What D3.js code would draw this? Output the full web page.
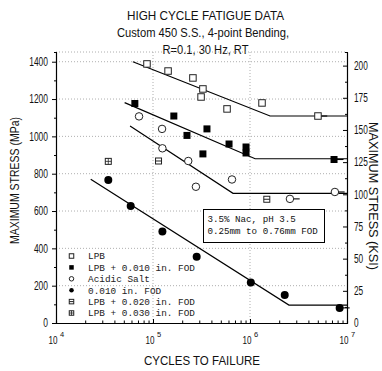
<!DOCTYPE html>
<html><head><meta charset="utf-8">
<script src="https://cdn.jsdelivr.net/npm/d3@7"></script>
<style>body{margin:0;background:#fff}svg{display:block}</style>
</head><body><svg id="c" width="382" height="371"></svg>
<script>
// ---- data ----
const titleLines = ["HIGH CYCLE FATIGUE DATA", "Custom 450 S.S., 4-point Bending,", "R=0.1, 30 Hz, RT"];
const xLabel = "CYCLES TO FAILURE";
const yLabel = "MAXIMUM STRESS (MPa)";
const yRLabel = "MAXIMUM STRESS (KSI)";
const noteLines = ["3.5% Nac, pH 3.5", "0.25mm to 0.76mm FOD"];
const legendLabels = ["LPB", "LPB + 0.010 in. FOD", "Acidic Salt", "0.010 in. FOD", "LPB + 0.020 in. FOD", "LPB + 0.030 in. FOD"];

const yTicksMPa = [0, 200, 400, 600, 800, 1000, 1200, 1400];
const yTicksKsi = [0, 25, 50, 75, 100, 125, 150, 175, 200];
const xTicks = [1e4, 1e5, 1e6, 1e7];

const lpbCycles = [86.7e3, 143e3, 258e3, 327e3, 313e3, 580e3, 1.33e6, 5.02e6];
const lpbStress = [1388, 1350, 1313, 1254, 1211, 1147, 1179, 1109];
const lpbRunout = [0, 0, 0, 0, 0, 0, 0, 1];

const lpb010Cycles = [65e3, 164e3, 224e3, 360e3, 327e3, 608e3, 910e3, 910e3, 7.35e6];
const lpb010Stress = [1176, 1109, 1005, 1040, 906, 959, 943, 911, 876];
const lpb010Runout = [0, 0, 0, 0, 0, 0, 0, 0, 1];

const acidCycles = [71.8e3, 124e3, 125e3, 231e3, 277e3, 652e3, 2.58e6, 7.5e6];
const acidStress = [1107, 1040, 936, 868, 730, 769, 665, 702];
const acidRunout = [0, 0, 0, 0, 0, 0, 1, 1];

const fodCycles = [34.6e3, 58.9e3, 125e3, 282e3, 1.02e6, 2.28e6, 8.4e6];
const fodStress = [766, 627, 490, 355, 217, 150, 81];
const fodRunout = [0, 0, 0, 0, 0, 0, 1];

const lpb020Cycles = [114e3, 1.49e6];
const lpb020Stress = [868, 663];

const lpb030Cycles = [34.6e3];
const lpb030Stress = [866];

const lpbFitCycles = [62e3, 1.61e6, 1e7];
const lpbFitStress = [1400, 1109, 1109];
const lpb010FitCycles = [51e3, 1.13e6, 1e7];
const lpb010FitStress = [1181, 880, 880];
const acidFitCycles = [58e3, 668e3, 1e7];
const acidFitStress = [1056, 695, 695];
const fodFitCycles = [22.8e3, 2.52e6, 1e7];
const fodFitStress = [770, 96, 96];

const MPA_PER_KSI = 6.895;

// ---- layout ----
const L = 56, R = 347, T = 52, B = 323;
const svg = d3.select("#c");
const FONT = "'Liberation Sans', Arial, sans-serif";
const MONO = "'Liberation Mono', 'Courier New', monospace";

const x = d3.scaleLog().domain([1e4, 1e7]).range([L, R]);
const y = d3.scaleLinear().domain([0, 1452]).range([B, T]);
const yR = d3.scaleLinear().domain([0, 1452 / MPA_PER_KSI]).range([B, T]);

// title
const titleW = [157, 172, 86], titleX = [205.5, 203, 205.5], titleY = [19.5, 36.5, 53.5];
titleLines.forEach((t, i) => {
  svg.append("text").attr("x", titleX[i]).attr("y", titleY[i]).attr("text-anchor", "middle")
    .attr("font-family", FONT).attr("font-size", 13).attr("fill", "#111")
    .attr("textLength", titleW[i]).attr("lengthAdjust", "spacingAndGlyphs").text(t);
});

// grid
const grid = svg.append("g").attr("stroke", "#9a9a9a").attr("stroke-width", 0.8).attr("stroke-dasharray", "1,2");
yTicksMPa.filter(v => v > 0).forEach(v => grid.append("line").attr("x1", L).attr("x2", R).attr("y1", y(v)).attr("y2", y(v)));
[1e5, 1e6].forEach(v => grid.append("line").attr("x1", x(v)).attr("x2", x(v)).attr("y1", T).attr("y2", B));
grid.append("line").attr("x1", L).attr("x2", R).attr("y1", T).attr("y2", T);

// axes
const axStyle = g => { g.select(".domain").attr("stroke", "#000").attr("stroke-width", 1.1); g.selectAll(".tick line").attr("stroke", "#000"); };

// left
const yMinor = d3.range(100, 1452, 200);
const glm = svg.append("g").attr("transform", `translate(${L},0)`)
  .call(d3.axisLeft(y).tickValues(yMinor).tickSize(2).tickFormat("")).call(axStyle);
glm.selectAll(".tick text").remove();
const gl = svg.append("g").attr("transform", `translate(${L},0)`)
  .call(d3.axisLeft(y).tickValues(yTicksMPa).tickSizeInner(4).tickSizeOuter(0).tickPadding(4).tickFormat(d3.format("d"))).call(axStyle);
gl.selectAll(".tick text").attr("font-family", FONT).attr("font-size", 12).attr("fill", "#111")
  .attr("textLength", d => String(d).length * 4.7).attr("lengthAdjust", "spacingAndGlyphs");

// right
const kMinor = d3.range(12.5, 210, 25);
const grm = svg.append("g").attr("transform", `translate(${R},0)`)
  .call(d3.axisRight(yR).tickValues(kMinor).tickSize(-2).tickFormat("")).call(axStyle);
grm.selectAll(".tick text").remove();
const gr = svg.append("g").attr("transform", `translate(${R},0)`)
  .call(d3.axisRight(yR).tickValues(yTicksKsi).tickSizeInner(-4).tickSizeOuter(0).tickPadding(7).tickFormat(d3.format("d"))).call(axStyle);
gr.selectAll(".tick text").attr("font-family", FONT).attr("font-size", 12).attr("fill", "#111")
  .attr("textLength", d => String(d).length * 4.6).attr("lengthAdjust", "spacingAndGlyphs");

// bottom
const xMinor = [];
[1e4, 1e5, 1e6].forEach(d => { for (let k = 2; k <= 9; k++) xMinor.push(d * k); });
const gbm = svg.append("g").attr("transform", `translate(0,${B})`)
  .call(d3.axisBottom(x).tickValues(xMinor).tickSize(-2.5).tickFormat("")).call(axStyle);
gbm.selectAll(".tick text").remove();
const gb = svg.append("g").attr("transform", `translate(0,${B})`)
  .call(d3.axisBottom(x).tickValues(xTicks).tickSizeInner(-4).tickSizeOuter(0).tickFormat(""))
  .call(axStyle);
gb.selectAll(".tick text").remove();
gb.selectAll(".tick").each(function(d) {
  const g = d3.select(this);
  g.append("text").attr("x", 1).attr("y", 20.5).attr("text-anchor", "end")
    .attr("font-family", FONT).attr("font-size", 11).attr("fill", "#111")
    .attr("textLength", 9).attr("lengthAdjust", "spacingAndGlyphs").text("10");
  g.append("text").attr("x", 3.5).attr("y", 13.5).attr("text-anchor", "start")
    .attr("font-family", FONT).attr("font-size", 7.5).attr("fill", "#111")
    .text(Math.round(Math.log10(d)));
});

// axis titles
svg.append("text").attr("x", 202).attr("y", 365).attr("text-anchor", "middle").attr("font-family", FONT)
  .attr("font-size", 13).attr("fill", "#111").attr("textLength", 116).attr("lengthAdjust", "spacingAndGlyphs").text(xLabel);
svg.append("text").attr("transform", "translate(19,180.5) rotate(-90)").attr("text-anchor", "middle").attr("font-family", FONT)
  .attr("font-size", 12.5).attr("fill", "#111").attr("textLength", 127).attr("lengthAdjust", "spacingAndGlyphs").text(yLabel);
svg.append("text").attr("transform", "translate(369,196) rotate(90)").attr("text-anchor", "middle").attr("font-family", FONT)
  .attr("font-size", 12).attr("fill", "#111").attr("textLength", 148).attr("lengthAdjust", "spacingAndGlyphs").text(yRLabel);

// fit lines
const line = d3.line().x(d => x(d[0])).y(d => y(d[1]));
[[lpbFitCycles, lpbFitStress], [lpb010FitCycles, lpb010FitStress], [acidFitCycles, acidFitStress], [fodFitCycles, fodFitStress]]
  .forEach(([c, s]) => svg.append("path").datum(c.map((v, i) => [v, s[i]])).attr("d", line)
    .attr("fill", "none").attr("stroke", "#000").attr("stroke-width", 1.2));

// symbols
function drawSym(g, type, cx, cy, sz) {
  const h = sz / 2;
  if (type === "sqOpen") g.append("rect").attr("x", cx - h).attr("y", cy - h).attr("width", sz).attr("height", sz).attr("fill", "#fff").attr("stroke", "#222").attr("stroke-width", 1);
  if (type === "sqFill") g.append("rect").attr("x", cx - h).attr("y", cy - h).attr("width", sz).attr("height", sz).attr("fill", "#000");
  if (type === "cOpen") g.append("circle").attr("cx", cx).attr("cy", cy).attr("r", h).attr("fill", "#fff").attr("stroke", "#222").attr("stroke-width", 1);
  if (type === "cFill") g.append("circle").attr("cx", cx).attr("cy", cy).attr("r", h).attr("fill", "#000");
  if (type === "sqLine") {
    g.append("rect").attr("x", cx - h).attr("y", cy - h).attr("width", sz).attr("height", sz).attr("fill", "#fff").attr("stroke", "#222").attr("stroke-width", 1);
    g.append("line").attr("x1", cx - h).attr("x2", cx + h).attr("y1", cy).attr("y2", cy).attr("stroke", "#222").attr("stroke-width", 1);
  }
  if (type === "sqGrid") {
    g.append("rect").attr("x", cx - h).attr("y", cy - h).attr("width", sz).attr("height", sz).attr("fill", "#fff").attr("stroke", "#222").attr("stroke-width", 1);
    g.append("line").attr("x1", cx - h).attr("x2", cx + h).attr("y1", cy).attr("y2", cy).attr("stroke", "#222").attr("stroke-width", 0.8);
    g.append("line").attr("x1", cx).attr("x2", cx).attr("y1", cy - h).attr("y2", cy + h).attr("stroke", "#222").attr("stroke-width", 0.8);
  }
}
const pts = svg.append("g");
function series(c, s, run, type, sz) {
  c.forEach((v, i) => {
    const px = x(v), py = y(s[i]);
    if (run && run[i]) pts.append("line").attr("x1", px).attr("x2", px + sz / 2 + 6).attr("y1", py).attr("y2", py).attr("stroke", "#000").attr("stroke-width", 1.1);
    drawSym(pts, type, px, py, sz);
  });
}
series(lpbCycles, lpbStress, lpbRunout, "sqOpen", 6.5);
series(lpb010Cycles, lpb010Stress, lpb010Runout, "sqFill", 7);
series(acidCycles, acidStress, acidRunout, "cOpen", 7.5);
series(fodCycles, fodStress, fodRunout, "cFill", 8);
series(lpb020Cycles, lpb020Stress, null, "sqLine", 6);
series(lpb030Cycles, lpb030Stress, null, "sqGrid", 6);

// legend
const legTypes = ["sqOpen", "sqFill", "cOpen", "cFill", "sqLine", "sqGrid"];
const leg = svg.append("g");
legendLabels.forEach((t, i) => {
  const cy = 256 + i * 11.4;
  drawSym(leg, legTypes[i], 71.5, cy, 4.5);
  leg.append("text").attr("x", 88).attr("y", cy + 3.3).attr("font-family", MONO).attr("font-size", 9.4)
    .attr("fill", "#222").text(t);
});

// note box
svg.append("rect").attr("x", 203.5).attr("y", 209.5).attr("width", 121).attr("height", 33)
  .attr("fill", "#fff").attr("stroke", "#000").attr("stroke-width", 1);
noteLines.forEach((t, i) => svg.append("text").attr("x", 207.5).attr("y", 221.5 + i * 12.5)
  .attr("font-family", MONO).attr("font-size", 9.2).attr("fill", "#111").text(t));
</script></body></html>
